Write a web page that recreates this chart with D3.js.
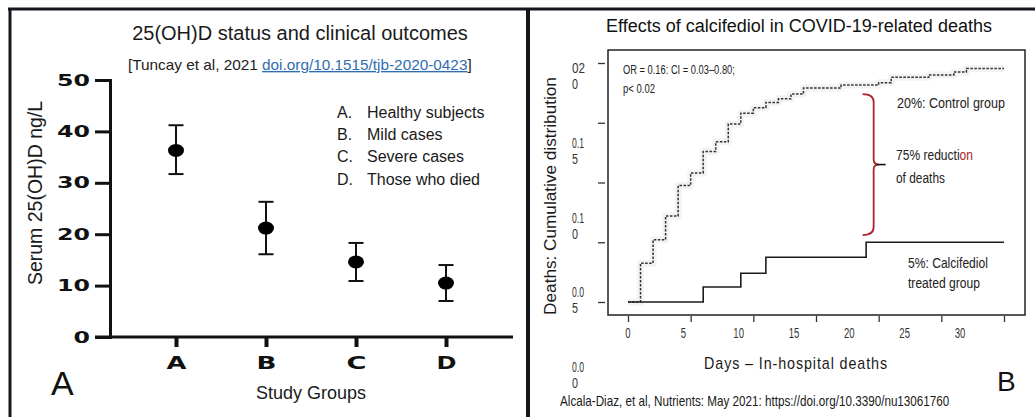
<!DOCTYPE html>
<html>
<head>
<meta charset="utf-8">
<script src="https://cdn.jsdelivr.net/npm/d3@7"></script>
<style>
body { margin: 0; background: #fff; }
svg { display: block; font-family: "Liberation Sans", Arial, sans-serif; }
</style>
</head>
<body>
<div class="chart"></div>
<script>
// Panel A: serum 25(OH)D by study group (mean and error bar ends)
var groups = ["A", "B", "C", "D"];
var groupMeans = [36.3, 21.2, 14.6, 10.5];
var groupUpper = [41.2, 26.3, 18.3, 14.0];
var groupLower = [31.7, 16.1, 10.9, 7.0];
var legendKeys = ["A.", "B.", "C.", "D."];
var legendNames = ["Healthy subjects", "Mild cases", "Severe cases", "Those who died"];
var yTicksA = [0, 10, 20, 30, 40, 50];

// Panel B: cumulative distribution of deaths by day
var controlDays = [0, 1, 2, 3, 4, 5, 6, 7, 8, 9, 10, 11, 12, 13, 14, 17, 20, 21, 24, 26, 27, 30];
var controlDeaths = [0, 0.0325, 0.052, 0.072, 0.0975, 0.108, 0.126, 0.134, 0.149, 0.158, 0.1625,
    0.167, 0.17, 0.174, 0.179, 0.1815, 0.1835, 0.188, 0.19, 0.1925, 0.1955, 0.1955];
var calciDays = [0, 6, 9, 11, 19, 30];
var calciDeaths = [0, 0.0125, 0.024, 0.0375, 0.05, 0.05];
var xTicksB = [0, 5, 10, 15, 20, 25, 30];
var yTicksB = [0, 0.05, 0.1, 0.15, 0.2];
var yLabelTop = ["0.0", "0.0", "0.1", "0.1", "02"];
var yLabelBottom = ["0", "5", "0", "5", "0"];

var svgWidth = 1035;
var svgHeight = 417;

var svg = d3.select(".chart")
  .append("svg")
  .attr("width", svgWidth)
  .attr("height", svgHeight);

// squeeze/stretch text horizontally to the width seen in the picture
function fit(sel, w, extra) {
    sel.each(function() {
        var node = d3.select(this);
        var natural = this.getComputedTextLength();
        var k = w / natural;
        var x = +node.attr("x") || 0;
        var y = +node.attr("y") || 0;
        node.attr("x", 0).attr("y", 0)
            .attr("transform", `translate(${x},${y}) ${extra || ""} scale(${k},1)`);
    });
}

// Panel frames
var ink = "#15151f";
svg.append("line").attr("x1", 8).attr("x2", 1035).attr("y1", 9).attr("y2", 9)
    .attr("stroke", ink).attr("stroke-width", 3);
svg.append("line").attr("x1", 10).attr("x2", 10).attr("y1", 8).attr("y2", 417)
    .attr("stroke", ink).attr("stroke-width", 3);
svg.append("line").attr("x1", 528).attr("x2", 528).attr("y1", 8).attr("y2", 417)
    .attr("stroke", ink).attr("stroke-width", 4);

// ---------- Panel A ----------
var yA = d3.scaleLinear().domain([0, 50]).range([337, 80]);
var xA = d3.scalePoint().domain(groups).range([176, 446]);

svg.append("text").attr("x", 300).attr("y", 40).attr("text-anchor", "middle")
    .style("font-size", "20px").style("fill", "#1a1a1a")
    .text("25(OH)D status and clinical outcomes");

var sub = svg.append("text").attr("x", 128).attr("y", 70)
    .style("font-size", "14px").style("fill", "#222");
sub.append("tspan").text("[Tuncay et al, 2021 ");
sub.append("tspan").style("fill", "#2f6db3").style("text-decoration", "underline")
    .text("doi.org/10.1515/tjb-2020-0423");
sub.append("tspan").text("]");
fit(sub, 344);

var yAxisA = svg.append("g")
    .attr("transform", "translate(110,0)")
    .call(d3.axisLeft(yA).tickValues(yTicksA).tickSize(15).tickSizeOuter(0).tickPadding(5));
yAxisA.select(".domain").attr("stroke", "#111").attr("stroke-width", 3).attr("stroke-linecap", "square");
yAxisA.selectAll(".tick line").attr("stroke", "#111").attr("stroke-width", 3);
yAxisA.selectAll(".tick text")
    .style("font-family", "'DejaVu Sans', sans-serif").style("font-weight", "bold")
    .style("font-size", "16px").style("fill", "#111")
    .each(function(d) { fit(d3.select(this), 16.5 * String(d).length); });

var xAxisA = svg.append("g")
    .attr("transform", "translate(0,337)")
    .call(d3.axisBottom(xA).tickSize(10).tickPadding(10));
xAxisA.select(".domain").remove();
xAxisA.selectAll(".tick line").attr("stroke", "#111").attr("stroke-width", 4);
xAxisA.selectAll(".tick text")
    .style("font-family", "'DejaVu Sans', sans-serif").style("font-weight", "bold")
    .style("font-size", "17px").style("fill", "#111")
    .each(function() { fit(d3.select(this), 20); });
svg.append("line").attr("x1", 95).attr("x2", 513).attr("y1", 337).attr("y2", 337)
    .attr("stroke", "#111").attr("stroke-width", 3);

svg.append("text")
    .attr("transform", "translate(42,193) rotate(-90)")
    .attr("text-anchor", "middle")
    .style("font-size", "19.5px").style("fill", "#1a1a1a")
    .text("Serum 25(OH)D ng/L");

svg.append("text").attr("x", 311).attr("y", 399).attr("text-anchor", "middle")
    .style("font-size", "18px").style("fill", "#1a1a1a")
    .text("Study Groups");

svg.append("text").attr("x", 51).attr("y", 395)
    .style("font-size", "34px").style("fill", "#111")
    .text("A");

// error bars and means
var barsA = svg.append("g").selectAll("g")
    .data(groups)
    .enter()
    .append("g");
barsA.append("line")
    .attr("x1", d => xA(d)).attr("x2", d => xA(d))
    .attr("y1", (d, i) => yA(groupUpper[i])).attr("y2", (d, i) => yA(groupLower[i]))
    .attr("stroke", "#111").attr("stroke-width", 2);
barsA.append("line")
    .attr("x1", d => xA(d) - 7.5).attr("x2", d => xA(d) + 7.5)
    .attr("y1", (d, i) => yA(groupUpper[i])).attr("y2", (d, i) => yA(groupUpper[i]))
    .attr("stroke", "#111").attr("stroke-width", 2);
barsA.append("line")
    .attr("x1", d => xA(d) - 7.5).attr("x2", d => xA(d) + 7.5)
    .attr("y1", (d, i) => yA(groupLower[i])).attr("y2", (d, i) => yA(groupLower[i]))
    .attr("stroke", "#111").attr("stroke-width", 2);
barsA.append("ellipse")
    .attr("cx", d => xA(d)).attr("cy", (d, i) => yA(groupMeans[i]))
    .attr("rx", 8).attr("ry", 6.5)
    .attr("fill", "#000");

// legend
var legendA = svg.append("g").selectAll("g")
    .data(legendNames)
    .enter()
    .append("g")
    .attr("transform", (d, i) => `translate(0, ${118 + i * 22.2})`);
legendA.append("text").attr("x", 337)
    .style("font-size", "16px").style("fill", "#1a1a1a")
    .text((d, i) => legendKeys[i]);
legendA.append("text").attr("x", 367)
    .style("font-size", "16px").style("fill", "#1a1a1a")
    .text(d => d);

// ---------- Panel B ----------
var xB = d3.scaleLinear().domain([0, 30]).range([628, 1004]);
var yB = d3.scaleLinear().domain([0, 0.2]).range([302, 63]);
// the printed tick labels sit on a different spacing than the tick marks
var xLab = d3.scaleLinear().domain([0, 30]).range([628, 960]);
var yLab = d3.scaleLinear().domain([0, 0.2]).range([367, 68]);

svg.append("text").attr("x", 799).attr("y", 32).attr("text-anchor", "middle")
    .style("font-size", "18px").style("fill", "#111")
    .text("Effects of calcifediol in COVID-19-related deaths");

svg.append("rect")
    .attr("x", 608).attr("y", 50).attr("width", 417).attr("height", 265)
    .attr("fill", "none").attr("stroke", "#222").attr("stroke-width", 1.5);

var yAxisB = svg.append("g")
    .attr("transform", "translate(605,0)")
    .call(d3.axisLeft(yB).tickValues(yTicksB).tickSize(7).tickFormat(""));
yAxisB.select(".domain").remove();
yAxisB.selectAll(".tick line").attr("stroke", "#333").attr("stroke-width", 1.3);

var xAxisB = svg.append("g")
    .attr("transform", "translate(0,316)")
    .call(d3.axisBottom(xB).tickValues(xTicksB).tickSize(6).tickFormat(""));
xAxisB.select(".domain").remove();
xAxisB.selectAll(".tick line").attr("stroke", "#333").attr("stroke-width", 1.3);

svg.append("g").selectAll("text")
    .data(xTicksB)
    .enter()
    .append("text")
    .attr("x", d => xLab(d)).attr("y", 338)
    .attr("text-anchor", "middle")
    .style("font-size", "14px").style("fill", "#333")
    .text(d => d)
    .each(function(d) { fit(d3.select(this), 5.3 * String(d).length); });

var yLabG = svg.append("g").selectAll("g")
    .data(yTicksB)
    .enter()
    .append("g");
yLabG.append("text")
    .attr("x", 572).attr("y", d => yLab(d) + 5)
    .style("font-size", "14px").style("fill", "#333")
    .text((d, i) => yLabelTop[i])
    .each(function(d, i) { fit(d3.select(this), yLabelTop[i].length == 2 ? 13 : 12); });
yLabG.append("text")
    .attr("x", 572).attr("y", d => yLab(d) + 21)
    .style("font-size", "14px").style("fill", "#333")
    .text((d, i) => yLabelBottom[i])
    .each(function() { fit(d3.select(this), 6); });

svg.append("text")
    .attr("x", 556).attr("y", 196)
    .attr("text-anchor", "middle")
    .style("font-size", "16px").style("fill", "#1a1a1a")
    .text("Deaths: Cumulative distribution")
    .call(fit, 238, "rotate(-90)");

svg.append("text").attr("x", 796).attr("y", 369).attr("text-anchor", "middle")
    .style("font-size", "16px").style("fill", "#1a1a1a")
    .style("letter-spacing", "1px")
    .text("Days \u2013 In-hospital deaths")
    .call(fit, 184);

svg.append("text").attr("x", 997).attr("y", 391)
    .style("font-size", "28px").style("fill", "#111")
    .text("B");

svg.append("text").attr("x", 560).attr("y", 406)
    .style("font-size", "14px").style("fill", "#1a1a1a")
    .text("Alcala-Diaz, et al, Nutrients: May 2021: https://doi.org/10.3390/nu13061760")
    .call(fit, 390);

// step curves
var stepLine = d3.line()
    .x(d => xB(d[0]))
    .y(d => yB(d[1]))
    .curve(d3.curveStepAfter);
var controlPts = controlDays.map((d, i) => [d, controlDeaths[i]]);
var calciPts = calciDays.map((d, i) => [d, calciDeaths[i]]);

svg.append("path")
    .attr("d", stepLine(controlPts))
    .attr("fill", "none").attr("stroke", "#f3f3f3")
    .attr("stroke-width", 7).attr("stroke-linejoin", "round");
svg.append("path")
    .attr("d", stepLine(controlPts))
    .attr("fill", "none").attr("stroke", "#333")
    .attr("stroke-width", 1.5).attr("stroke-dasharray", "2.5,1.5");
svg.append("path")
    .attr("d", stepLine(calciPts))
    .attr("fill", "none").attr("stroke", "#1c1c1c")
    .attr("stroke-width", 1.6);

// red brace between the two groups
var bx = xB(19.6), btop = yB(0.174), bbot = yB(0.056), bmid = (btop + bbot) / 2;
svg.append("path")
    .attr("d", `M${bx - 11},${btop} Q${bx},${btop} ${bx},${btop + 8} L${bx},${bmid - 5} Q${bx},${bmid} ${bx + 5},${bmid}`
        + ` Q${bx},${bmid} ${bx},${bmid + 5} L${bx},${bbot - 8} Q${bx},${bbot} ${bx - 11},${bbot}`)
    .attr("fill", "none").attr("stroke", "#ad2327").attr("stroke-width", 1.8);
svg.append("line")
    .attr("x1", bx + 3).attr("x2", bx + 12).attr("y1", bmid).attr("y2", bmid)
    .attr("stroke", "#111").attr("stroke-width", 1.6);

// annotations
svg.append("text").attr("x", 623).attr("y", 74)
    .style("font-size", "13px").style("fill", "#222")
    .text("OR = 0.16: CI = 0.03\u20130.80;").call(fit, 112);
svg.append("text").attr("x", 623).attr("y", 93)
    .style("font-size", "13px").style("fill", "#222")
    .text("p< 0.02").call(fit, 32);
svg.append("text").attr("x", 897).attr("y", 108)
    .style("font-size", "15px").style("fill", "#222")
    .text("20%: Control  group").call(fit, 108);
var red = svg.append("text").attr("x", 896).attr("y", 160)
    .style("font-size", "15px").style("fill", "#222");
red.append("tspan").text("75% reducti");
red.append("tspan").style("fill", "#ad2327").text("on");
fit(red, 77);
svg.append("text").attr("x", 896).attr("y", 183)
    .style("font-size", "15px").style("fill", "#222")
    .text("of deaths").call(fit, 49);
svg.append("text").attr("x", 908).attr("y", 268)
    .style("font-size", "15px").style("fill", "#222")
    .text("5%: Calcifediol").call(fit, 80);
svg.append("text").attr("x", 908).attr("y", 288)
    .style("font-size", "15px").style("fill", "#222")
    .text("treated group").call(fit, 72);
</script>
</body>
</html>
